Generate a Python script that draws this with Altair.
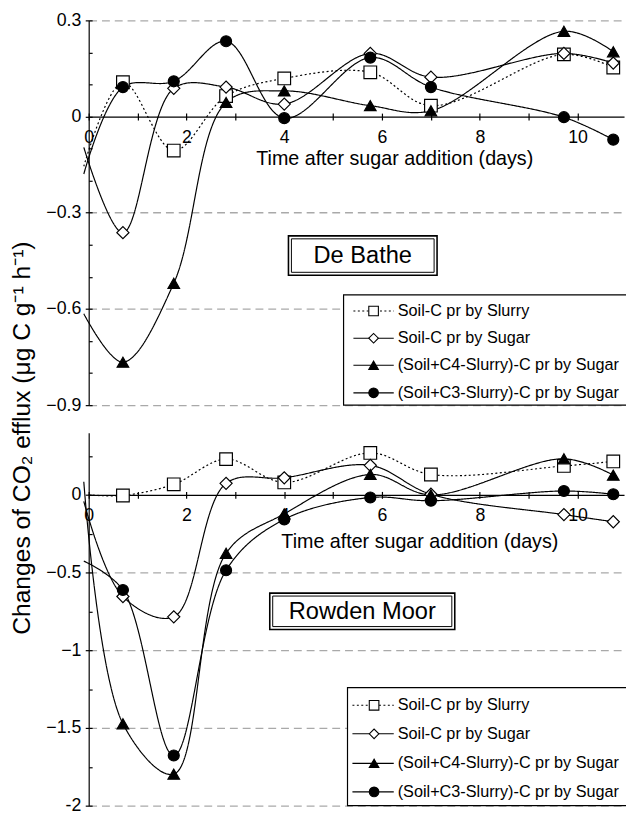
import altair as alt
import pandas as pd

FONT = "Liberation Sans"

# ---------------- data ----------------
DAYS = [0.7, 1.74, 2.81, 4.0, 5.76, 7.0, 9.72, 10.73]
SERIES = [
    "Soil-C pr by Slurry",
    "Soil-C pr by Sugar",
    "(Soil+C4-Slurry)-C pr by Sugar",
    "(Soil+C3-Slurry)-C pr by Sugar",
]

# De Bathe
DB_SLURRY = [0.107, -0.106, 0.064, 0.119, 0.138, 0.034, 0.194, 0.153]
DB_SUGAR = [-0.362, 0.088, 0.092, 0.039, 0.197, 0.123, 0.197, 0.167]
DB_C4 = [-0.766, -0.52, 0.044, 0.08, 0.034, 0.018, 0.266, 0.202]
DB_C3 = [0.092, 0.11, 0.235, -0.005, 0.184, 0.092, -0.002, -0.072]
DB_START_X = [-0.1, -0.1, -0.1, -0.1]
DB_START_Y = [-0.155, -0.096, -0.615, -0.179]

# Rowden Moor
RM_SLURRY = [-0.004, 0.068, 0.23, 0.08, 0.27, 0.131, 0.186, 0.215]
RM_SUGAR = [-0.654, -0.785, 0.074, 0.11, 0.19, 0.004, -0.127, -0.173]
RM_C4 = [-1.473, -1.797, -0.376, -0.122, 0.131, 0.0, 0.232, 0.127]
RM_C3 = [-0.612, -1.677, -0.485, -0.158, -0.017, -0.038, 0.025, 0.004]
RM_START_X = [0.0, -0.1, -0.1, -0.1]
RM_START_Y = [0.0, -0.042, 0.084, -0.426]

X_MAJOR = [0, 1, 2, 3, 4, 5, 6, 7, 8, 9, 10]
DB_Y_MAJOR = [-0.9, -0.6, -0.3, 0, 0.3]
DB_Y_MINOR = [-0.8, -0.7, -0.5, -0.4, -0.2, -0.1, 0.1, 0.2]
RM_Y_MAJOR = [-2, -1.5, -1, -0.5, 0]
RM_Y_MINOR = [-1.75, -1.25, -0.75, -0.25, 0.25]

X_TITLE = "Time after sugar addition (days)"
Y_TITLE = "Changes of CO\u2082 efflux (\u03bcg C g\u207b\u00b9 h\u207b\u00b9)"

# ---------------- styles ----------------
SHAPES = ["square", "diamond", "triangle-up", "circle"]
FILLS = ["white", "white", "black", "black"]
DASHES = [[2, 2.5], [1, 0], [1, 0], [1, 0]]
SIZES = [165, 125, 150, 165]
W = 544
X_DOMAIN = [0, 10.95]


def frame(values, sx, sy):
    rows = []
    for i, (name, vals) in enumerate(zip(SERIES, values)):
        rows.append(dict(series=name, x=sx[i], y=sy[i], marker=False))
        for d, v in zip(DAYS, vals):
            rows.append(dict(series=name, x=d, y=v, marker=True))
    return pd.DataFrame(rows)


def one():
    return pd.DataFrame({"k": [0]})


def box(x1, x2, y1, y2, sw, fill="white"):
    return alt.Chart(one()).mark_rect(fill=fill, stroke="black", strokeWidth=sw).encode(
        x=alt.value(x1), x2=alt.value(x2), y=alt.value(y1), y2=alt.value(y2)
    )


def label_box(x1, x2, y1, y2, text):
    return [
        box(x1, x2, y1, y2, 1.6),
        box(x1 + 3, x2 - 3, y1 + 3, y2 - 3, 1.0),
        alt.Chart(one()).mark_text(text=text, align="center", baseline="middle",
                                   fontSize=24, font=FONT, color="black").encode(
            x=alt.value((x1 + x2) / 2), y=alt.value((y1 + y2) / 2 + 1)),
    ]


def legend(x1, x2, y1, y2, rows, lx1, lx2, mx, tx):
    layers = [box(x1, x2, y1, y2, 1.2)]
    for i, name in enumerate(SERIES):
        yy = rows[i]
        rule_kw = dict(color="black", strokeWidth=1.1)
        if i == 0:
            rule_kw["strokeDash"] = DASHES[0]
        layers.append(alt.Chart(one()).mark_rule(**rule_kw).encode(
            x=alt.value(lx1), x2=alt.value(lx2), y=alt.value(yy)))
        layers.append(alt.Chart(one()).mark_point(
            shape=SHAPES[i], filled=True, fill=FILLS[i], stroke="black",
            strokeWidth=1.1, size=95, opacity=1).encode(x=alt.value(mx), y=alt.value(yy)))
        layers.append(alt.Chart(one()).mark_text(
            text=name, align="left", baseline="middle", fontSize=16.5, font=FONT,
            color="black").encode(x=alt.value(tx), y=alt.value(yy)))
    return layers


def panel(df, ydom, H, ymajor, yminor, ylabel_expr, yformat, xtitle_x, xtitle_y,
          ytitle_kw, extra):
    y0px = H * (ydom[1] - 0) / (ydom[1] - ydom[0])
    xs = alt.Scale(domain=X_DOMAIN, nice=False, zero=False)
    ys = alt.Scale(domain=ydom, nice=False, zero=False)

    yaxis_kw = dict(orient="left", values=ymajor, tickSize=3.5, labelPadding=4.5,
                    grid=True, gridDash=[8, 5], gridColor="#a9a9a9", gridWidth=1.3,
                    gridOpacity={"condition": {"test": "datum.value === 0", "value": 0},
                                 "value": 1},
                    labelExpr=ylabel_expr, format=yformat)
    yaxis_kw.update(ytitle_kw)

    lines = alt.Chart(df).mark_line(
        interpolate="catmull-rom", color="black", strokeWidth=1.2
    ).encode(
        x=alt.X("x:Q", scale=xs, axis=alt.Axis(
            orient="bottom", offset=-(H - y0px), values=X_MAJOR, tickSize=3.5,
            labelPadding=9, labelFlush=False,
            labelExpr="datum.value % 2 == 0 ? datum.label : ''",
            title=X_TITLE, titleX=xtitle_x, titleY=xtitle_y, grid=False)),
        y=alt.Y("y:Q", scale=ys, axis=alt.Axis(**yaxis_kw)),
        detail="series:N",
        strokeDash=alt.StrokeDash("series:N", scale=alt.Scale(domain=SERIES, range=DASHES),
                                  legend=None),
        order=alt.Order("x:Q"),
    )

    points = alt.Chart(df).transform_filter("datum.marker").mark_point(
        filled=True, stroke="black", strokeWidth=1.2, opacity=1
    ).encode(
        x=alt.X("x:Q", scale=xs, axis=alt.Axis(
            orient="top", offset=-y0px, values=X_MAJOR, labels=False, domain=False,
            tickSize=3.5, title=None, grid=False)),
        y=alt.Y("y:Q", scale=ys, axis=alt.Axis(
            orient="right", offset=-W, values=ymajor + yminor, labels=False,
            domain=False, tickSize=3.5, title=None, grid=False)),
        shape=alt.Shape("series:N", scale=alt.Scale(domain=SERIES, range=SHAPES), legend=None),
        fill=alt.Fill("series:N", scale=alt.Scale(domain=SERIES, range=FILLS), legend=None),
        size=alt.Size("series:N", scale=alt.Scale(domain=SERIES, range=SIZES), legend=None),
    )

    return alt.layer(lines, points, *extra).resolve_axis(
        x="independent", y="independent"
    ).properties(width=W, height=H)


db = frame([DB_SLURRY, DB_SUGAR, DB_C4, DB_C3], DB_START_X, DB_START_Y)
rm = frame([RM_SLURRY, RM_SUGAR, RM_C4, RM_C3], RM_START_X, RM_START_Y)

H_TOP = 391
H_BOT = 379

top = panel(
    db, [-0.9, 0.3], H_TOP, DB_Y_MAJOR, DB_Y_MINOR,
    "datum.value == 0 ? '0' : datum.label", ".1f", 310.5, 33,
    dict(title=None),
    label_box(203, 354, 219, 259, "De Bathe")
    + legend(259, 548, 279, 391, [295.3, 323, 350.5, 378.5], 269, 310, 289.5, 314),
)

bottom = panel(
    rm, [-2, 0.4], H_BOT, RM_Y_MAJOR, RM_Y_MINOR,
    "datum.value == -2 ? '-2' : datum.label", "~g", 336, 37,
    dict(title=Y_TITLE, titleX=-55, titleY=5, titleFontSize=25),
    label_box(184, 372, 163, 200, "Rowden Moor")
    + legend(263, 548, 259, 379, [277, 306, 336, 365], 268, 310, 290, 314),
)

chart = alt.vconcat(top, bottom, spacing=28, bounds="flush").properties(
    padding={"left": 1, "top": -3, "right": -3, "bottom": 0}
).configure(font=FONT).configure_view(stroke=None).configure_axis(
    labelFont=FONT, titleFont=FONT, labelFontSize=18, titleFontSize=20,
    titleFontWeight="normal", labelColor="black", titleColor="black",
    domainColor="black", tickColor="black", domainWidth=1.2, tickWidth=1.2,
)

chart.save("out.html", embed_options={"renderer": "svg", "actions": False})
